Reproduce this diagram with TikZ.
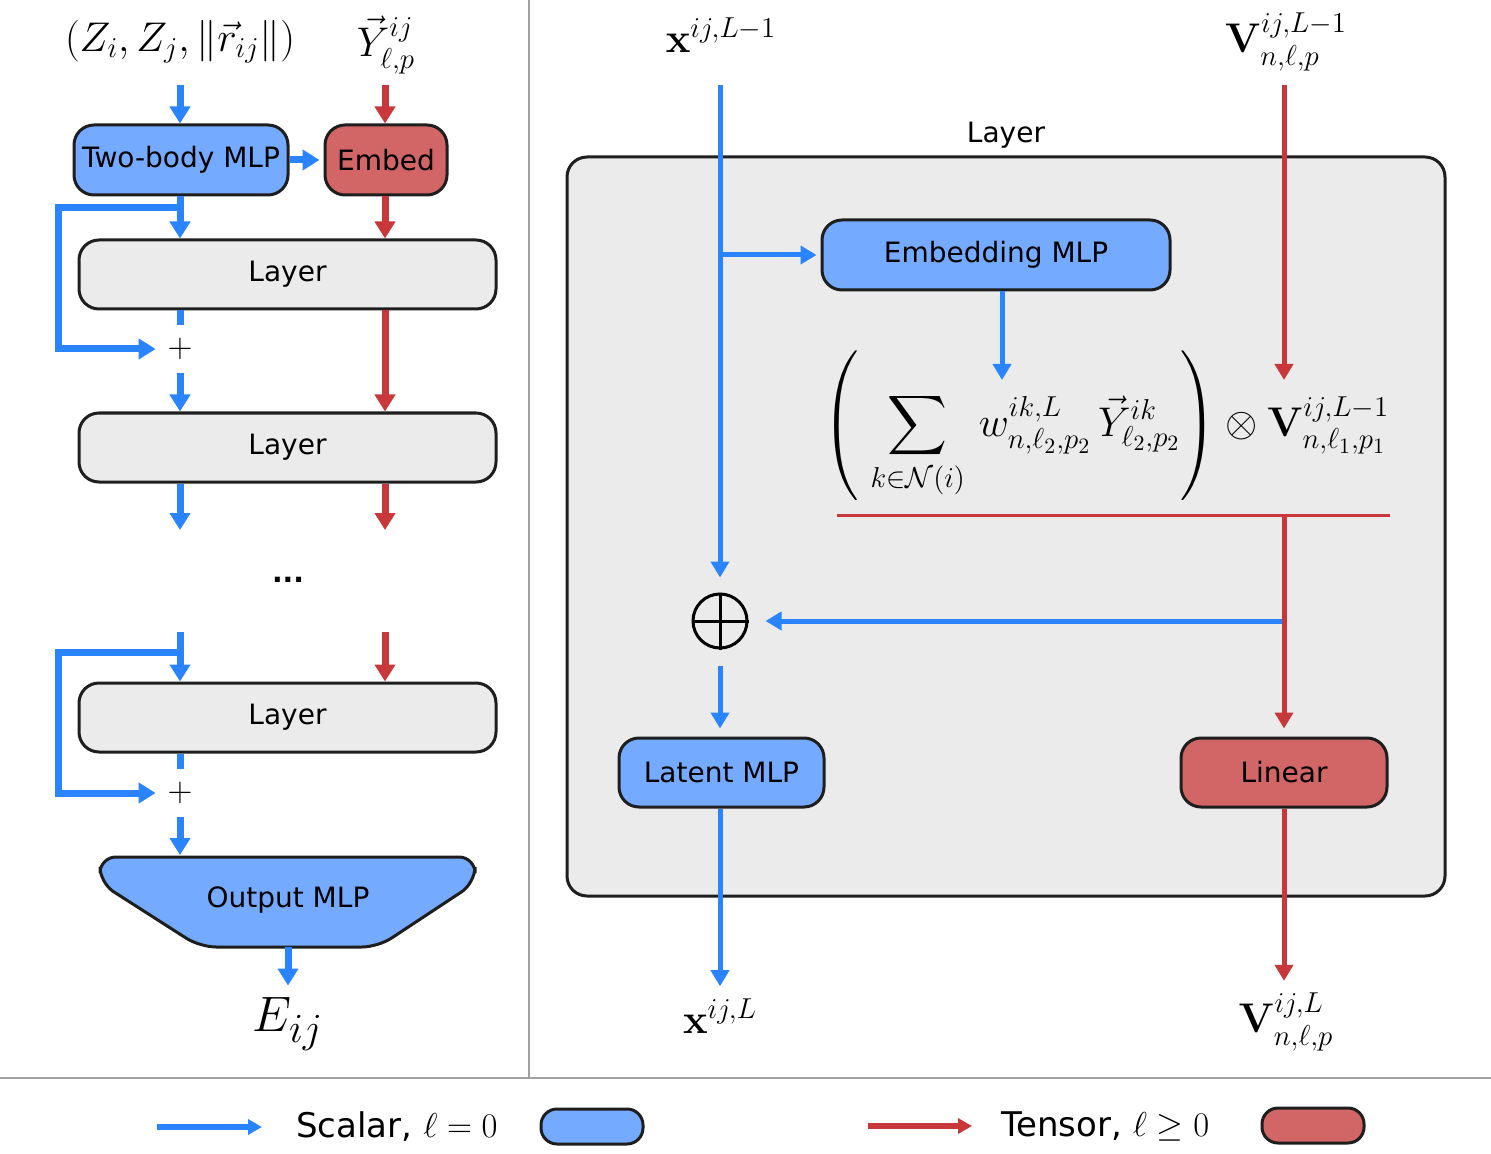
\documentclass[tikz,border=0pt]{standalone}
\usepackage[no-math]{fontspec}
\setmainfont{DejaVu Sans}
\usepackage{amsmath}
\usetikzlibrary{arrows.meta}
\definecolor{sblue}{RGB}{42,132,255}
\definecolor{tred}{RGB}{200,55,58}
\definecolor{sfill}{RGB}{116,170,255}
\definecolor{tfill}{RGB}{210,101,101}
\definecolor{lfill}{RGB}{235,235,235}
\definecolor{edge}{RGB}{30,30,30}
\definecolor{sepgray}{RGB}{160,160,160}
\begin{document}
\begin{tikzpicture}[x=0.5pt, y=-0.5pt,
box/.style={draw=edge, line width=1.5pt, rounded corners=10pt, inner sep=0pt, font=\fontsize{14}{17}\selectfont},
sbox/.style={box, fill=sfill},
tbox/.style={box, fill=tfill},
lbox/.style={box, fill=lfill, minimum width=208.5pt, minimum height=34.5pt},
sline/.style={sblue, line width=3.5pt},
sarr/.style={sline, -{Triangle[width=10pt,length=8.5pt]}},
tarr/.style={tred, line width=3.5pt, -{Triangle[width=10pt,length=8.5pt]}},
sarrR/.style={sblue, line width=2.5pt, -{Triangle[width=9pt,length=8pt]}},
tarrR/.style={tred, line width=2.5pt, -{Triangle[width=9pt,length=8pt]}},
lgarr/.style={line width=3pt, -{Triangle[width=7.5pt,length=7pt]}},
lbl/.style={inner sep=0pt, font=\fontsize{21}{25}\selectfont},
plusnode/.style={minimum size=24pt, inner sep=0pt, font=\fontsize{17}{20}\selectfont}
]
\useasboundingbox (0,0) rectangle (1491,1154);
\coordinate (sepT) at (529,0);
\coordinate (sepB) at (529,1078);
\coordinate (sepL) at (0,1078);
\coordinate (sepR) at (1491,1078);
\draw[sepgray, line width=0.75pt] (sepT) -- (sepB);
\draw[sepgray, line width=1pt] (sepL) -- (sepR);
\node[lbl, font=\fontsize{22.5}{27}\selectfont] (inzr) at (180,42) {$(Z_i, Z_j, \|\vec{r}_{ij}\|)$};
\node[lbl, font=\fontsize{22.5}{27}\selectfont] (iny) at (386,45) {$\vec{Y}^{ij}_{\ell,p}$};
\coordinate (inzrS) at (180,85);
\coordinate (inyS) at (385,85);
\node[sbox, minimum width=107pt, minimum height=35pt] (twobody) at (181,160) {Two-body MLP};
\node[tbox, minimum width=61pt, minimum height=35pt] (embed) at (386,160) {Embed};
\node[lbox] (layer1) at (287.5,274.5) {Layer};
\node[lbox] (layer2) at (287.5,447.5) {Layer};
\node[lbox] (layer3) at (287.5,717.5) {Layer};
\node[plusnode] (plus1) at (180,349) {$+$};
\node[plusnode] (plus3) at (180,793) {$+$};
\draw[sarr] (inzrS) -- (inzrS |- twobody.north);
\draw[tarr] (inyS) -- (inyS |- embed.north);
\draw[sarr, shorten >=2pt] (twobody.east) -- (embed.west);
\draw[tarr] (embed.south -| inyS) -- (layer1.north -| inyS);
\draw[sarr] (twobody.south -| inzrS) -- (layer1.north -| inzrS);
\coordinate (skip1) at (180,208);
\draw[sarr] (skip1) -- ++(-122,0) |- (plus1.west);
\draw[sline] (layer1.south -| plus1) -- (plus1.north);
\draw[sarr] (plus1.south) -- (layer2.north -| plus1);
\draw[tarr] (layer1.south -| inyS) -- (layer2.north -| inyS);
\coordinate (out2s) at (180,530);
\coordinate (out2t) at (385,530);
\draw[sarr] (layer2.south -| plus1) -- (out2s);
\draw[tarr] (layer2.south -| inyS) -- (out2t);
\node[font=\bfseries\fontsize{14}{17}\selectfont, inner sep=0pt] (dots) at (288,580) {...};
\coordinate (in3s) at (180,632);
\coordinate (in3t) at (385,632);
\draw[sarr] (in3s) -- (layer3.north -| in3s);
\draw[tarr] (in3t) -- (layer3.north -| in3t);
\coordinate (skip3) at (180,652);
\draw[sarr] (skip3) -- ++(-122,0) |- (plus3.west);
\draw[sline] (layer3.south -| plus3) -- (plus3.north);
\draw[draw=edge, fill=sfill, line width=1.5pt, rounded corners=8pt] (100,857) -- (475,857) -- (475,883) -- (378,947) -- (200,947) -- (100,883) -- cycle;
\node[font=\fontsize{14}{17}\selectfont] (outmlp) at (288,900) {Output MLP};
\coordinate (outtop) at (180,855);
\coordinate (outbot) at (288,947);
\draw[sarr] (plus3.south) -- (outtop);
\node[inner sep=0pt, font=\fontsize{30}{36}\selectfont] (eij) at (288,1024) {$E_{ij}$};
\draw[sarr, shorten >=6pt] (outbot) -- (eij.north);
\node[box, fill=lfill, minimum width=439pt, minimum height=369.5pt, label={[font=\fontsize{14}{17}\selectfont, label distance=0pt]above:Layer}] (layerbox) at (1006,526.5) {};
\node[lbl] (xin) at (721,35) {$\mathbf{x}^{ij,L-1}$};
\node[lbl] (vin) at (1286,42) {$\mathbf{V}^{ij,L-1}_{n,\ell,p}$};
\coordinate (xinS) at (720,85);
\coordinate (vinS) at (1284,85);
\node[sbox, minimum width=174pt, minimum height=35pt] (embmlp) at (996,255) {Embedding MLP};
\node[circle, draw=black, line width=1.5pt, minimum size=27pt, inner sep=0pt] (oplus) at (720,621) {};
\draw[line width=1.5pt] (oplus.north) -- (oplus.south);
\draw[line width=1.5pt] (oplus.west) -- (oplus.east);
\node[inner sep=0pt, font=\fontsize{22}{26}\selectfont] (agg) at (1106,426) {$\displaystyle\left(\;\sum_{k\in\mathcal{N}(i)}\, w^{ik,L}_{n,\ell_2,p_2}\,\vec{Y}^{ik}_{\ell_2,p_2}\right)\otimes\mathbf{V}^{ij,L-1}_{n,\ell_1,p_1}$};
\coordinate (aggw) at (1002,380);
\coordinate (barL) at (837,515);
\coordinate (barR) at (1390,515);
\node[sbox, minimum width=102.5pt, minimum height=34.5pt] (latent) at (721.5,772.5) {Latent MLP};
\node[tbox, minimum width=103pt, minimum height=34.5pt] (linear) at (1284,772.5) {Linear};
\draw[sarrR, shorten >=7.5pt] (xinS) -- (xinS |- oplus.north);
\draw[sarrR, shorten >=2pt] (xinS |- embmlp.west) -- (embmlp.west);
\draw[sarrR] ([xshift=3pt]embmlp.south) -- (aggw);
\draw[tarrR] (vinS) -- (vinS |- aggw);
\draw[tred, line width=1.5pt] (barL) -- (barR);
\draw[sarrR, shorten >=8.5pt] (oplus.east -| linear) -- (oplus.east);
\draw[tarrR, shorten >=4pt] (linear.north |- barL) -- (linear.north);
\draw[sarrR, shorten <=8pt, shorten >=4pt] (oplus.south) -- (latent.north -| oplus);
\node[lbl] (xout) at (720,1016) {$\mathbf{x}^{ij,L}$};
\node[lbl] (vout) at (1286,1022) {$\mathbf{V}^{ij,L}_{n,\ell,p}$};
\draw[sarrR, shorten >=6pt] (latent.south -| oplus) -- (oplus |- xout.north);
\draw[tarrR, shorten >=6pt] (linear.south) -- (linear.south |- vout.north);
\coordinate (lgs0) at (157,1127);
\coordinate (lgs1) at (262,1127);
\coordinate (lgt0) at (868,1126);
\coordinate (lgt1) at (972,1126);
\draw[lgarr, sblue] (lgs0) -- (lgs1);
\draw[lgarr, tred] (lgt0) -- (lgt1);
\node[anchor=west, inner sep=0pt, font=\fontsize{17}{20}\selectfont] (lgstxt) at (296,1127) {Scalar, $\ell = 0$};
\node[anchor=west, inner sep=0pt, font=\fontsize{17}{20}\selectfont] (lgttxt) at (1001,1126) {Tensor, $\ell \geq 0$};
\node[sbox, minimum width=51pt, minimum height=17.5pt, rounded corners=8pt] (lgsbox) at (592,1126.5) {};
\node[tbox, minimum width=51pt, minimum height=17.5pt, rounded corners=8pt] (lgtbox) at (1313,1125.5) {};
\end{tikzpicture}
\end{document}
